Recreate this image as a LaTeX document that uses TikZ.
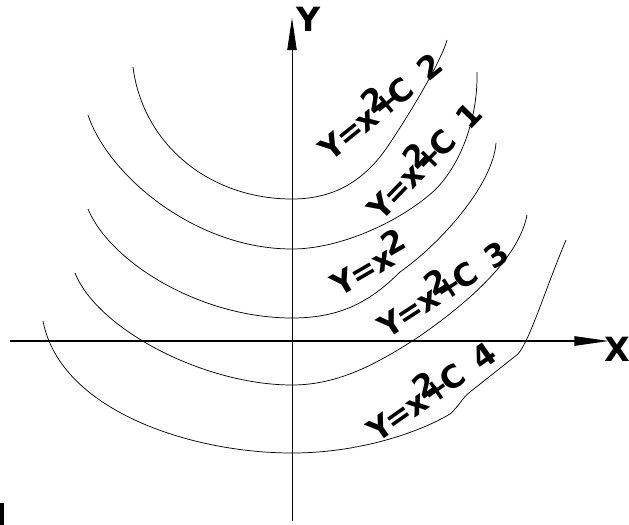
\documentclass[tikz,border=0pt]{standalone}
\usepackage{fontspec}
\setmainfont{DejaVu Sans}
\usetikzlibrary{arrows.meta}
\newcommand\eqlab[1]{Y\kern-.1em=\kern-.05em x\kern-.1em\raisebox{.32em}{2}\kern-.55em+\kern-.15em C\kern.5em#1}
\begin{document}
\begin{tikzpicture}[x=0.75pt,y=-0.75pt,
  curve/.style={line width=0.55pt},
  lbl/.style={font=\fontsize{23.5}{23.5}\selectfont\bfseries, inner sep=0pt},
  axlbl/.style={font=\fontsize{25}{25}\selectfont\bfseries, inner sep=0pt}]
\useasboundingbox (0,0) rectangle (629,525);
% axes
\coordinate (xs) at (10,341);
\coordinate (xe) at (609,341);
\coordinate (ys) at (292,521);
\coordinate (ye) at (292,18);
\draw[line width=1.3pt,-{Triangle[length=26pt,width=7pt]}] (xs) -- (xe);
\draw[line width=0.6pt,-{Triangle[length=24pt,width=7pt]}] (ys) -- (ye);
\node[axlbl] (ylab) at (309,19) {Y};
\node[axlbl] (xlab) at (617,349) {X};
% curves
\draw[curve] (133,67) .. controls (143,145) and (210,199) .. (292,199)
  .. controls (335,199) and (365,180) .. (388,146)
  .. controls (403,124) and (440,65) .. (447,40);
\draw[curve] (88,115) .. controls (108,175) and (195,249) .. (292,249)
  .. controls (340,249) and (400,222) .. (435,190)
  .. controls (460,165) and (478,120) .. (477,72);
\draw[curve] (88,209) .. controls (110,262) and (200,318) .. (292,318)
  .. controls (340,318) and (370,302) .. (400,272)
  .. controls (440,244) and (493,185) .. (496,143);
\draw[curve] (75,273) .. controls (98,330) and (205,385) .. (292,385)
  .. controls (340,385) and (380,362) .. (420,336)
  .. controls (460,308) and (518,262) .. (527,215);
\draw[curve] (43,321) .. controls (60,410) and (190,453) .. (292,453)
  .. controls (360,453) and (420,432) .. (450,414)
  .. controls (460,405) and (462,398) .. (470,392)
  -- (518,354)
  .. controls (530,340) and (545,290) .. (566,240);
% labels
\node[lbl,rotate=39] (l2) at (378,103) {\eqlab{2}};
\node[lbl,rotate=46] (l1) at (421,158) {\eqlab{1}};
\node[lbl,rotate=30] (l0) at (368,262) {Y\kern-.05em=\kern-.05em x\kern-.1em\raisebox{.32em}{2}};
\node[lbl,rotate=33] (l3) at (441,285) {\eqlab{3}};
\node[lbl,rotate=35] (l4) at (429,388) {\eqlab{4}};
% cut-off mark at lower left
\fill (0,503) rectangle (3.5,525);
\end{tikzpicture}
\end{document}
